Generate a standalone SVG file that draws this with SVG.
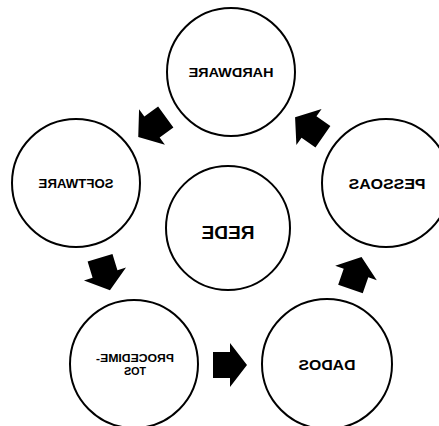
<svg xmlns="http://www.w3.org/2000/svg" xmlns:xlink="http://www.w3.org/1999/xlink" width="439" height="426" viewBox="0 0 439 426">
<style>
.node circle{fill:#fff;stroke:#000;stroke-width:2}
.node text{font-family:"Liberation Sans",Arial,sans-serif;font-weight:bold;fill:#000;text-anchor:middle}
.arrow{fill:#000}
</style>
<defs>
<path id="arr" d="M-17,-13 H0 V-22 L17,0 L0,22 V13 H-17 Z"/>
</defs>
<rect width="439" height="426" fill="#fff"/>
<g id="connectors">
<use xlink:href="#arr" class="arrow" transform="translate(152,127) rotate(144)"/>
<use xlink:href="#arr" class="arrow" transform="translate(105,274) rotate(73)"/>
<use xlink:href="#arr" class="arrow" transform="translate(230,365)"/>
<use xlink:href="#arr" class="arrow" transform="translate(356,273) rotate(-71)"/>
<use xlink:href="#arr" class="arrow" transform="translate(309,127) rotate(215)"/>
</g>
<g id="hardware" class="node">
<circle cx="231" cy="72" r="64"/>
<text transform="matrix(-1 0 0 1 462 0)" x="231" y="77" font-size="13" textLength="85" lengthAdjust="spacingAndGlyphs">HARDWARE</text>
</g>
<g id="software" class="node">
<circle cx="76" cy="183" r="64"/>
<text transform="matrix(-1 0 0 1 152 0)" x="76" y="188" font-size="13" textLength="75" lengthAdjust="spacingAndGlyphs">SOFTWARE</text>
</g>
<g id="pessoas" class="node">
<circle cx="386" cy="183" r="64"/>
<text transform="matrix(-1 0 0 1 774 0)" x="387" y="189" font-size="14" textLength="77" lengthAdjust="spacingAndGlyphs">PESSOAS</text>
</g>
<g id="rede" class="node">
<circle cx="228" cy="228" r="62"/>
<text transform="matrix(-1 0 0 1 456 0)" x="228" y="239" font-size="18" textLength="53" lengthAdjust="spacingAndGlyphs">REDE</text>
</g>
<g id="procedimentos" class="node">
<circle cx="134" cy="364" r="64"/>
<text transform="matrix(-1 0 0 1 270 0)" x="135" y="362" font-size="10" textLength="78" lengthAdjust="spacingAndGlyphs">PROCEDIME-</text>
<text transform="matrix(-1 0 0 1 270 0)" x="135" y="375" font-size="10" textLength="22" lengthAdjust="spacingAndGlyphs">TOS</text>
</g>
<g id="dados" class="node">
<circle cx="327" cy="364" r="65"/>
<text transform="matrix(-1 0 0 1 654 0)" x="327" y="370" font-size="15" textLength="57" lengthAdjust="spacingAndGlyphs">DADOS</text>
</g>
</svg>
